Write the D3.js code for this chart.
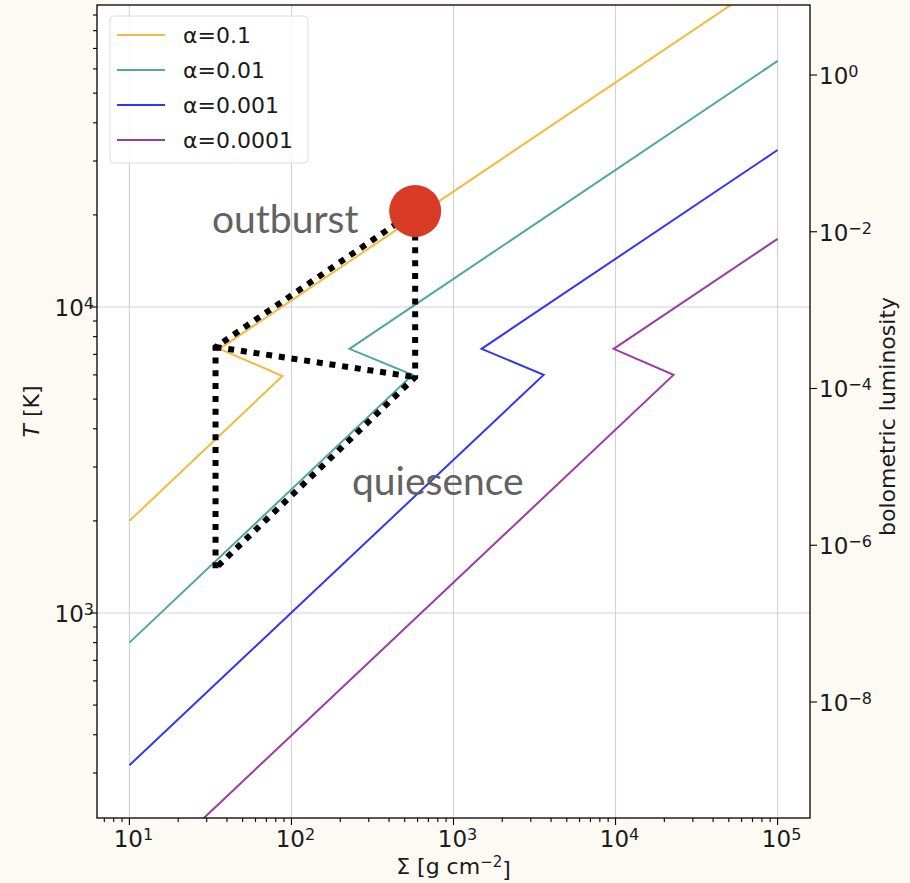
<!DOCTYPE html>
<html>
<head>
<meta charset="utf-8">
<script src="https://cdn.jsdelivr.net/npm/d3@7"></script>
<style>
  html, body { margin: 0; padding: 0; background: #fdf9f3; }
  svg { display: block; }
</style>
</head>
<body>
<svg id="chart" width="910" height="883"></svg>
<script>
// ---------- data ----------
const seriesLabels = ["α=0.1", "α=0.01", "α=0.001", "α=0.0001"];
const seriesColors = ["#f5b93e", "#4fa6a2", "#3434f8", "#9c3aa7"];
const sigma_a1 = [10, 88, 36, 100000];
const temp_a1  = [2000, 5950, 7300, 123000];
const sigma_a2 = [10, 558, 228, 100000];
const temp_a2  = [800, 6000, 7300, 63700];
const sigma_a3 = [10, 3600, 1490, 100000];
const temp_a3  = [318, 6000, 7300, 32600];
const sigma_a4 = [10, 22800, 9730, 100000];
const temp_a4  = [126, 6000, 7300, 16700];
const cycleSigma = [34, 34, 580, 580, 34];
const cycleTemp  = [1400, 7400, 20600, 5900, 1400];
const cycleSigma2 = [34, 580];
const cycleTemp2  = [7400, 5900];
const outburstSigma = 580, outburstTemp = 20600;
const xTicks = [10, 100, 1000, 10000, 100000];
const xTickExp = ["1", "2", "3", "4", "5"];
const yTicks = [1000, 10000];
const yTickExp = ["3", "4"];
const lumTicks = [1, 1e-2, 1e-4, 1e-6, 1e-8];
const lumTickExp = ["0", "−2", "−4", "−6", "−8"];

const series = [
  {label: seriesLabels[0], color: seriesColors[0], s: sigma_a1, t: temp_a1},
  {label: seriesLabels[1], color: seriesColors[1], s: sigma_a2, t: temp_a2},
  {label: seriesLabels[2], color: seriesColors[2], s: sigma_a3, t: temp_a3},
  {label: seriesLabels[3], color: seriesColors[3], s: sigma_a4, t: temp_a4},
];

// ---------- layout ----------
const L = 97, R = 810, T = 5, B = 818;
const svg = d3.select("#chart");
const x = d3.scaleLog().domain([Math.pow(10, 0.8), Math.pow(10, 5.2)]).range([L, R]);
const y = d3.scaleLog().domain([Math.pow(10, 2.33), Math.pow(10, 4.987)]).range([B, T]);
const yR = d3.scaleLog().domain([Math.pow(10, -9.48), Math.pow(10, 0.893)]).range([B, T]);

svg.append("rect").attr("x", L).attr("y", T).attr("width", R - L).attr("height", B - T).attr("fill", "#ffffff");

svg.append("defs").append("clipPath").attr("id", "clip")
  .append("rect").attr("x", L).attr("y", T).attr("width", R - L).attr("height", B - T);

// grid
const grid = svg.append("g");
xTicks.forEach(v => grid.append("line").attr("x1", x(v)).attr("x2", x(v)).attr("y1", T).attr("y2", B)
  .attr("stroke", "#d2d2d2").attr("stroke-width", 1.1));
yTicks.forEach(v => grid.append("line").attr("x1", L).attr("x2", R).attr("y1", y(v)).attr("y2", y(v))
  .attr("stroke", "#d2d2d2").attr("stroke-width", 1.1));

// lines
const line = d3.line().x(d => x(d[0])).y(d => y(d[1]));
const plot = svg.append("g").attr("clip-path", "url(#clip)");
series.forEach(sr => {
  plot.append("path").datum(sr.s.map((v, i) => [v, sr.t[i]]))
    .attr("d", line).attr("fill", "none").attr("stroke", sr.color).attr("stroke-width", 2);
});

// cycle dotted path
[[cycleSigma, cycleTemp], [cycleSigma2, cycleTemp2]].forEach(([ss, tt]) => {
  plot.append("path").datum(ss.map((v, i) => [v, tt[i]]))
    .attr("d", line).attr("fill", "none").attr("stroke", "#000").attr("stroke-width", 6)
    .attr("stroke-dasharray", "6,6.8").attr("stroke-linejoin", "miter");
});

plot.append("circle").attr("cx", x(outburstSigma)).attr("cy", y(outburstTemp)).attr("r", 26)
  .attr("fill", "#d73b26");

// annotations
svg.append("text").attr("x", 212).attr("y", 233).text("outburst")
  .attr("font-family", "Lato").attr("font-size", 39).attr("fill", "#626262");
svg.append("text").attr("x", 352).attr("y", 495).text("quiesence")
  .attr("font-family", "Lato").attr("font-size", 39).attr("fill", "#626262");

// frame
svg.append("rect").attr("x", L).attr("y", T).attr("width", R - L).attr("height", B - T)
  .attr("fill", "none").attr("stroke", "#000").attr("stroke-width", 1.3);

// ticks
const tk = svg.append("g").attr("stroke", "#000").attr("stroke-width", 1.1);
const minorX = [];
for (let e = 0; e <= 5; e++) for (let m = 2; m <= 9; m++) {
  const v = m * Math.pow(10, e);
  if (x(v) >= L && x(v) <= R) minorX.push(v);
}
minorX.forEach(v => tk.append("line").attr("x1", x(v)).attr("x2", x(v)).attr("y1", B).attr("y2", B + 4));
xTicks.forEach(v => tk.append("line").attr("x1", x(v)).attr("x2", x(v)).attr("y1", B).attr("y2", B + 7));
const minorY = [];
for (let e = 2; e <= 4; e++) for (let m = 2; m <= 9; m++) {
  const v = m * Math.pow(10, e);
  if (y(v) >= T && y(v) <= B) minorY.push(v);
}
minorY.forEach(v => tk.append("line").attr("x1", L).attr("x2", L - 4).attr("y1", y(v)).attr("y2", y(v)));
yTicks.forEach(v => tk.append("line").attr("x1", L).attr("x2", L - 7).attr("y1", y(v)).attr("y2", y(v)));
lumTicks.forEach(v => tk.append("line").attr("x1", R).attr("x2", R + 7).attr("y1", yR(v)).attr("y2", yR(v)));

const font = "DejaVu Sans";
function powLabel(g, px, py, exp, anchor) {
  const t = g.append("text").attr("x", px).attr("y", py).attr("text-anchor", anchor)
    .attr("font-family", font).attr("font-size", 23).attr("fill", "#1a1a1a");
  t.append("tspan").text("10");
  t.append("tspan").attr("dy", "-0.45em").attr("font-size", 16).text(exp);
  return t;
}
const lab = svg.append("g");
xTicks.forEach((v, i) => powLabel(lab, x(v) + 4, 847, xTickExp[i], "middle"));
yTicks.forEach((v, i) => powLabel(lab, 94, y(v) + 9, yTickExp[i], "end"));
lumTicks.forEach((v, i) => powLabel(lab, 819, yR(v) + 9, lumTickExp[i], "start"));

// axis labels
const xl = svg.append("text").attr("x", (L + R) / 2).attr("y", 874).attr("text-anchor", "middle")
  .attr("font-family", font).attr("font-size", 22).attr("fill", "#1a1a1a");
xl.append("tspan").text("Σ [g cm");
xl.append("tspan").attr("dy", "-0.45em").attr("font-size", 15).text("−2");
xl.append("tspan").attr("dy", "0.45em").text("]");

const ylab = svg.append("text").attr("transform", `translate(39,${(T + B) / 2}) rotate(-90)`)
  .attr("text-anchor", "middle").attr("font-family", font).attr("font-size", 22).attr("fill", "#1a1a1a");
ylab.append("tspan").attr("font-style", "italic").text("T");
ylab.append("tspan").text(" [K]");

svg.append("text").attr("transform", `translate(895,${(T + B) / 2 + 5}) rotate(-90)`)
  .attr("text-anchor", "middle").attr("font-family", font).attr("font-size", 22).attr("fill", "#1a1a1a")
  .text("bolometric luminosity");

// legend
const lg = svg.append("g");
lg.append("rect").attr("x", 110).attr("y", 16).attr("width", 198).attr("height", 147).attr("rx", 4)
  .attr("fill", "#ffffff").attr("fill-opacity", 0.85).attr("stroke", "#dcdcdc").attr("stroke-width", 1);
series.forEach((sr, i) => {
  const yy = 35 + i * 35;
  lg.append("line").attr("x1", 117).attr("x2", 165).attr("y1", yy).attr("y2", yy)
    .attr("stroke", sr.color).attr("stroke-width", 2);
  lg.append("text").attr("x", 183).attr("y", yy + 8).text(sr.label)
    .attr("font-family", font).attr("font-size", 22).attr("fill", "#1a1a1a");
});
</script>
</body>
</html>
